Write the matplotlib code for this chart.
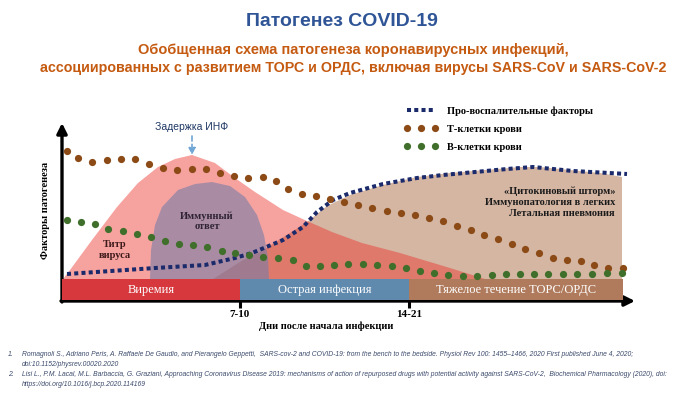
import matplotlib
matplotlib.use("Agg")
import matplotlib.pyplot as plt
from matplotlib.lines import Line2D

# chart units: x = time since infection start (arrow length 573),
# y = level of pathogenesis factors (arrow height 178), phase bar occupies 1..22
phase_edges = [0, 178, 347, 561]
phase_names = ["Виремия", "Острая инфекция", "Тяжелое течение ТОРС/ОРДС"]
phase_colors = ["#D6383D", "#5F8AAE", "#B07B5C"]
tick_pos = [178, 347]
tick_labels = ["7-10", "14-21"]

# virus titer (pink area)
virus_x = [1, 8, 30, 55, 76, 96, 113, 130, 153, 173, 193, 221, 245, 270, 300, 338, 388, 423]
virus_y = [22, 31, 61, 94, 118, 134, 142, 146, 138, 123, 109, 91, 80, 69, 58, 48, 33, 22]

# immune response (mauve dome)
immune_x = [88, 89, 93, 100, 116, 133, 150, 168, 183, 195, 202, 206, 207]
immune_y = [22, 51, 76, 94, 111, 117, 119, 115, 104, 86, 66, 43, 22]

# cytokine storm (tan area)
storm_x = [151, 181, 198, 228, 245, 265, 288, 321, 355, 388, 458, 478, 538, 560, 560]
storm_y = [22, 41, 49, 68, 79, 95, 106, 116, 124, 128, 134, 134, 128, 124, 22]

# pro-inflammatory factors
proinfl_x = [5, 93, 143, 173, 190, 221, 241, 255, 271, 288, 321, 355, 381, 445, 471, 511, 565]
proinfl_y = [27, 33, 36, 43, 48, 61, 74, 89, 101, 108, 117, 123, 126, 132, 134, 130, 127]

# blood T cells
tcell_x = [5, 16, 30, 45, 59, 73, 87, 101, 115, 130, 144, 158, 172, 186, 201, 214, 226,
           240, 254, 268, 282, 296, 310, 325, 339, 353, 367, 381, 395, 409, 422, 436,
           450, 463, 477, 491, 505, 519, 532, 546, 561]
tcell_y = [150, 143, 139, 141, 142, 142, 137, 133, 131, 132, 132, 128, 125, 123, 124, 120, 112,
           107, 105, 102, 99, 96, 93, 90, 88, 86, 83, 80, 75, 71, 66, 62,
           57, 52, 48, 43, 41, 40, 36, 33, 33]

# blood B cells
bcell_x = [5, 19, 33, 46, 61, 75, 89, 103, 117, 131, 145, 160, 173, 187, 201, 216, 231,
           244, 258, 272, 286, 301, 315, 330, 344, 358, 372, 386, 401, 415, 430, 444,
           458, 472, 486, 501, 515, 530, 545, 560]
bcell_y = [81, 79, 77, 72, 70, 67, 64, 60, 57, 56, 54, 50, 48, 46, 44, 43, 41,
           35, 35, 36, 37, 37, 36, 35, 33, 30, 28, 26, 25, 25, 26, 27,
           27, 27, 27, 27, 27, 27, 28, 28]

W, H = 700, 393
SERIF = "Liberation Serif"
NARROW = ["Liberation Sans Narrow", "Liberation Sans"]

fig = plt.figure(figsize=(W / 100, H / 100), dpi=100)
ax = fig.add_axes([62 / W, (H - 301) / H, 573 / W, 178 / H])
ax.set_xlim(0, 573)
ax.set_ylim(0, 178)
for s in ax.spines.values():
    s.set_visible(False)
ax.set_yticks([])
ax.set_xticks(tick_pos)
ax.set_xticklabels(tick_labels, fontfamily=SERIF, fontweight="bold", fontsize=8)
ax.tick_params(axis="x", length=5, width=2.2, pad=1.5)

# areas
ax.fill(storm_x, storm_y, color="#D5B6A3", lw=0, zorder=1)
ax.fill(virus_x, virus_y, color="#EB2A23", alpha=0.43, lw=0, zorder=2)
ax.fill(immune_x, immune_y, color="#777DA8", alpha=0.6, lw=0, zorder=3)

# phase bar
for i, name in enumerate(phase_names):
    left, right = phase_edges[i], phase_edges[i + 1]
    ax.bar(left, 21, width=right - left, bottom=1, align="edge",
           color=phase_colors[i], lw=0, zorder=4)
    ax.text((left + right) / 2, 11.5, name, ha="center", va="center", color="white",
            fontfamily=SERIF, fontsize=9, zorder=8)

# lines / dots
ax.plot(proinfl_x, proinfl_y, color="#1B2A6B", lw=2.9, ls=(0, (1, 0.8)), zorder=5,
        solid_capstyle="butt")
ax.plot(tcell_x, tcell_y, ls="none", marker="o", ms=5.2, color="#8B4A16", mec="none", zorder=6)
ax.plot(bcell_x, bcell_y, ls="none", marker="o", ms=5.2, color="#3F6F2A", mec="none", zorder=6)

# axes arrows
ax.annotate("", xy=(573, 0), xytext=(-1, 0),
            arrowprops=dict(arrowstyle="-|>,head_length=0.6,head_width=0.3",
                            lw=2.4, color="black", shrinkA=0, shrinkB=0), annotation_clip=False)
ax.annotate("", xy=(0, 178), xytext=(0, -1),
            arrowprops=dict(arrowstyle="-|>,head_length=0.6,head_width=0.3",
                            lw=2.4, color="black", shrinkA=0, shrinkB=0), annotation_clip=False)

bold_serif = dict(fontfamily=SERIF, fontweight="bold", fontsize=7.5)
ax.text(264, -25, "Дни после начала инфекции", ha="center", va="center", **bold_serif)
ax.text(-16, 91, "Факторы патогенеза", ha="center", va="center", rotation=90, **bold_serif)

# annotations
ax.text(130, 174, "Задержка ИНФ", ha="center", va="center", color="#1F3864",
        fontfamily="Liberation Sans", fontsize=7.5)
ax.annotate("", xy=(130, 146), xytext=(130, 165),
            arrowprops=dict(arrowstyle="-|>,head_length=0.4,head_width=0.2", lw=1.2,
                            ls=(0, (3, 2)), color="#6FA6D6", shrinkA=0, shrinkB=0))
ax.text(145, 80, "Иммунный\nответ", ha="center", va="center", color="#2E2233",
        linespacing=1.2, zorder=8, **bold_serif)
ax.text(53, 51, "Титр\nвируса", ha="center", va="center", color="#3E1A1A",
        linespacing=1.2, zorder=8, **bold_serif)
ax.text(553, 99, "«Цитокиновый шторм»\nИммунопатология в легких\nЛетальная пневмония",
        ha="right", va="center", multialignment="right", color="#1A1A1A",
        linespacing=1.25, zorder=8, **bold_serif)

# legend
handles = [
    Line2D([], [], color="#1B2A6B", lw=2.9, ls=(0, (1, 0.8))),
    Line2D([], [], ls="none", marker="o", ms=5.2, color="#8B4A16", mec="none"),
    Line2D([], [], ls="none", marker="o", ms=5.2, color="#3F6F2A", mec="none"),
]
fig.legend(handles, ["Про-воспалительные факторы", "Т-клетки крови", "В-клетки крови"],
           loc="upper left", bbox_to_anchor=(404 / W, 1 - 106 / H), frameon=False,
           numpoints=3, handlelength=3.3, handletextpad=0.8, labelspacing=0.85,
           borderpad=0, borderaxespad=0,
           prop=dict(family=SERIF, weight="bold", size=7.5))

# titles
fig.text(342 / W, 1 - 22 / H, "Патогенез COVID-19", ha="center", va="center",
         color="#2F5597", fontsize=14, fontweight="bold", family=NARROW)
fig.text(353 / W, 1 - 50 / H, "Обобщенная схема патогенеза коронавирусных инфекций,",
         ha="center", va="center", color="#C55A11", fontsize=10.5, fontweight="bold",
         family=NARROW)
fig.text(353 / W, 1 - 68 / H,
         "ассоциированных с развитием ТОРС и ОРДС, включая вирусы SARS-CoV и SARS-CoV-2",
         ha="center", va="center", color="#C55A11", fontsize=10.3, fontweight="bold",
         family=NARROW)

# references
refs = [
    ("1.", "Romagnoli S., Adriano Peris, A. Raffaele De Gaudio, and Pierangelo Geppetti,  "
           "SARS-cov-2 and COVID-19: from the bench to the bedside. Physiol Rev 100: "
           "1455–1466, 2020 First published June 4, 2020;", 354),
    ("", "doi:10.1152/physrev.00020.2020", 364),
    ("2.", "Lisi L., P.M. Lacal, M.L. Barbaccia, G. Graziani, Approaching Coronavirus Disease "
           "2019: mechanisms of action of repurposed drugs with potential activity against "
           "SARS-CoV-2,  Biochemical Pharmacology (2020), doi:", 375),
    ("", "https://doi.org/10.1016/j.bcp.2020.114169", 385),
]
for num, txt, y in refs:
    if num:
        fig.text(8 / W, 1 - y / H, num, ha="left", va="center", color="#3B4A6B",
                 fontsize=4.85, style="italic", family="Liberation Sans")
    fig.text(22 / W, 1 - y / H, txt, ha="left", va="center", color="#3B4A6B",
             fontsize=4.85, style="italic", family="Liberation Sans")

fig.savefig("out.png", dpi=100)
